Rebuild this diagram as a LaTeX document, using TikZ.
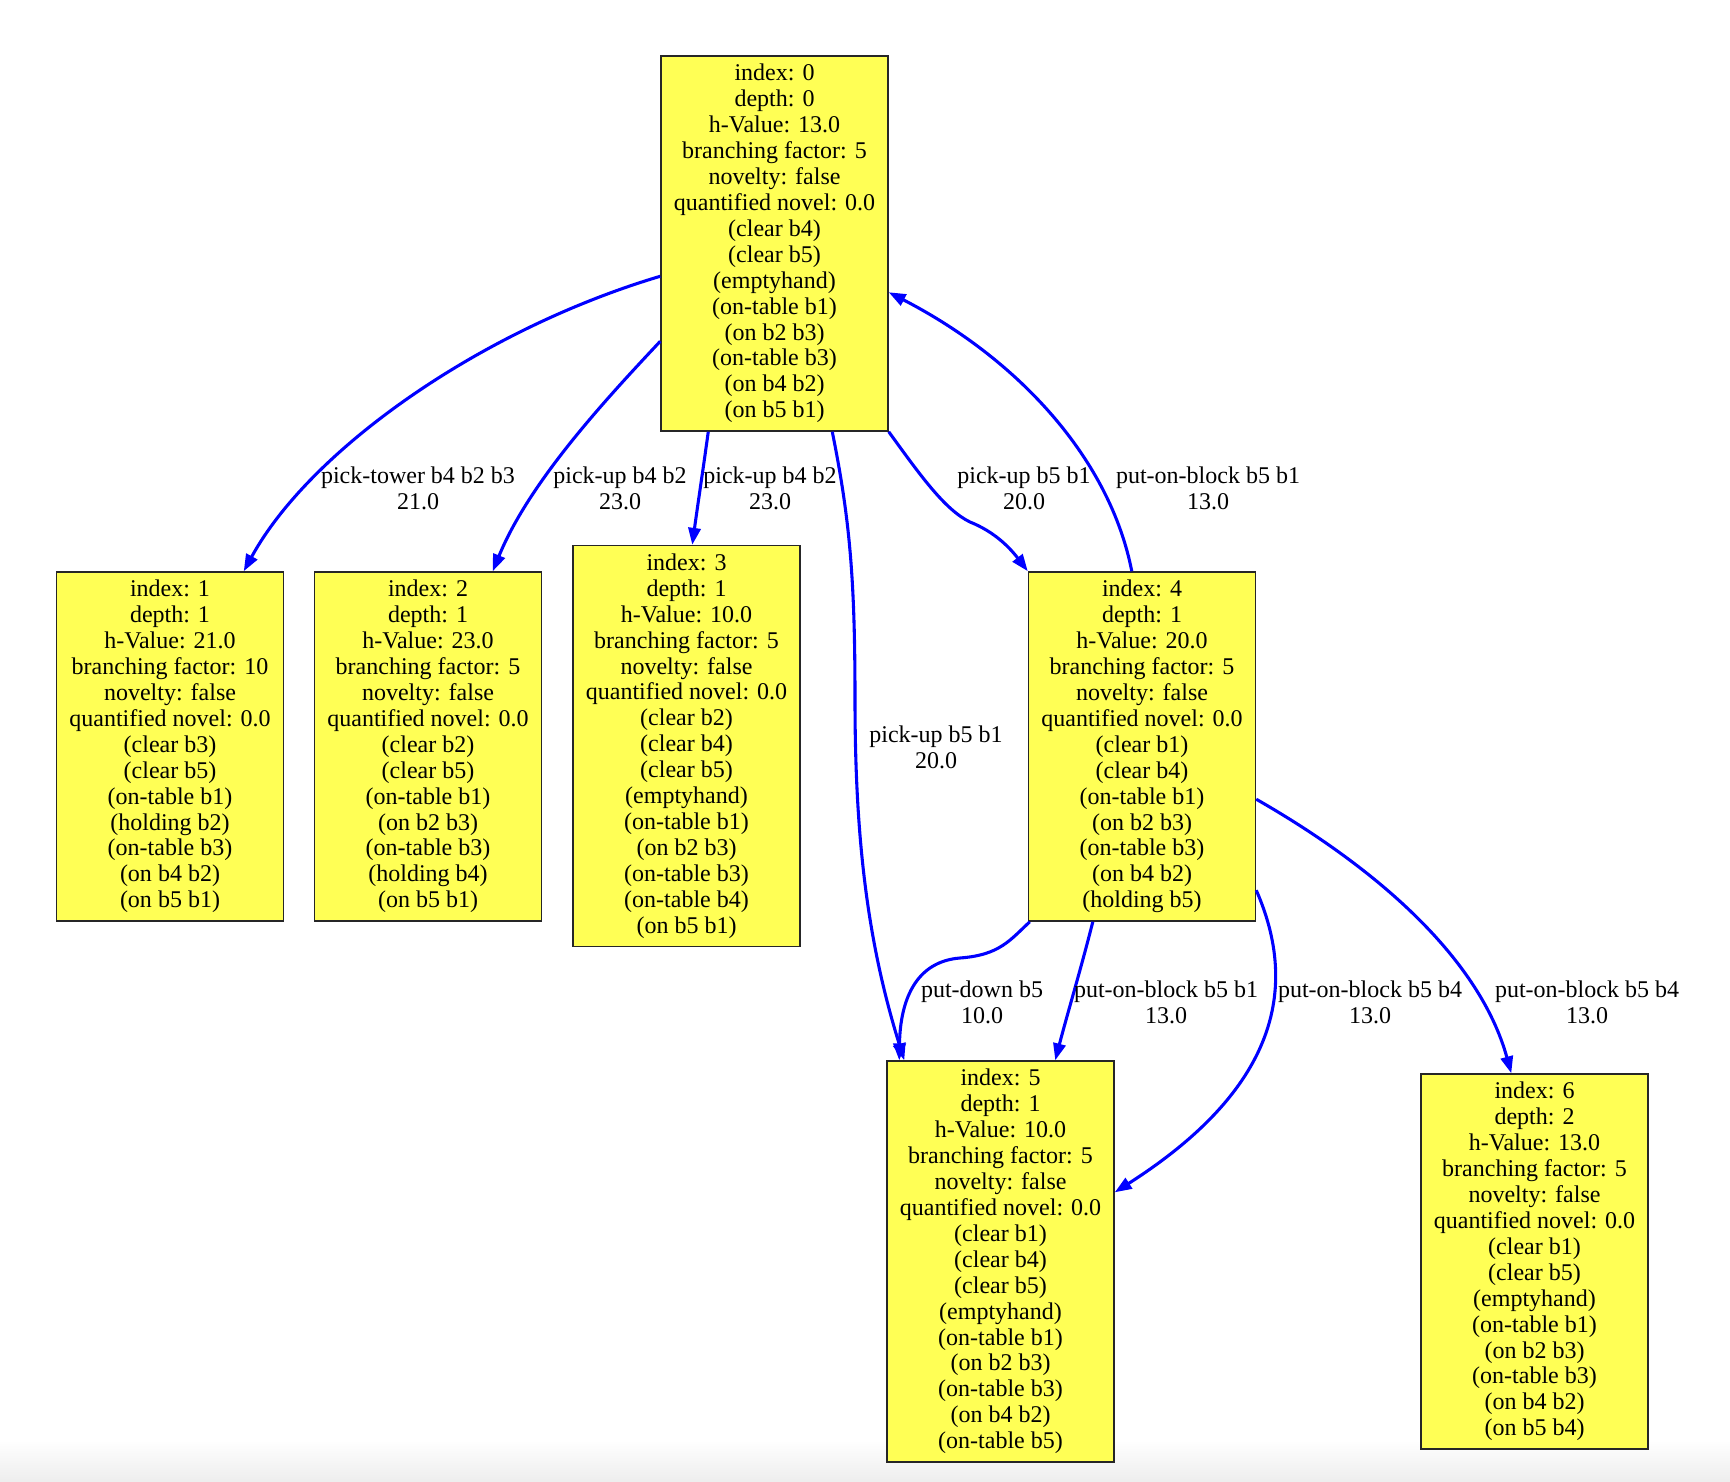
\documentclass[tikz,border=0pt]{standalone}
\usepackage{fontspec}
\setmainfont{Liberation Serif}
\usetikzlibrary{arrows.meta,calc}
\definecolor{nodeyellow}{RGB}{255,255,85}

\begin{document}
\begin{tikzpicture}[x=0.65pt,y=-0.65pt,
    statebox/.style={draw=black!85, line width=0.9pt, fill=nodeyellow, align=center,
      minimum width=147.6pt, inner xsep=2pt, inner ysep=5.3pt,
      font=\fontsize{15.6}{16.85}\selectfont},
    move/.style={draw=blue, line width=2pt, -{Triangle[length=11pt,width=8pt]}},
    movelabel/.style={align=center, inner sep=0pt, font=\fontsize{15.6}{16.85}\selectfont}]
    \useasboundingbox (0,0) rectangle (1730,1482);
    \shade[top color=white, bottom color=black!7] (0,1440) rectangle (1730,1482);

    % search states
    \node[statebox] (n0) at (774.5,243.5) {index: 0\\depth: 0\\h-Value: 13.0\\branching factor: 5\\novelty: false\\quantified novel: 0.0\\(clear b4)\\(clear b5)\\(emptyhand)\\(on-table b1)\\(on b2 b3)\\(on-table b3)\\(on b4 b2)\\(on b5 b1)};
    \node[statebox] (n1) at (170,746.5) {index: 1\\depth: 1\\h-Value: 21.0\\branching factor: 10\\novelty: false\\quantified novel: 0.0\\(clear b3)\\(clear b5)\\(on-table b1)\\(holding b2)\\(on-table b3)\\(on b4 b2)\\(on b5 b1)};
    \node[statebox] (n2) at (428,746.5) {index: 2\\depth: 1\\h-Value: 23.0\\branching factor: 5\\novelty: false\\quantified novel: 0.0\\(clear b2)\\(clear b5)\\(on-table b1)\\(on b2 b3)\\(on-table b3)\\(holding b4)\\(on b5 b1)};
    \node[statebox] (n3) at (686.5,746) {index: 3\\depth: 1\\h-Value: 10.0\\branching factor: 5\\novelty: false\\quantified novel: 0.0\\(clear b2)\\(clear b4)\\(clear b5)\\(emptyhand)\\(on-table b1)\\(on b2 b3)\\(on-table b3)\\(on-table b4)\\(on b5 b1)};
    \node[statebox] (n4) at (1142,746.5) {index: 4\\depth: 1\\h-Value: 20.0\\branching factor: 5\\novelty: false\\quantified novel: 0.0\\(clear b1)\\(clear b4)\\(on-table b1)\\(on b2 b3)\\(on-table b3)\\(on b4 b2)\\(holding b5)};
    \node[statebox] (n5) at (1000.5,1261.5) {index: 5\\depth: 1\\h-Value: 10.0\\branching factor: 5\\novelty: false\\quantified novel: 0.0\\(clear b1)\\(clear b4)\\(clear b5)\\(emptyhand)\\(on-table b1)\\(on b2 b3)\\(on-table b3)\\(on b4 b2)\\(on-table b5)};
    \node[statebox] (n6) at (1534.5,1261.5) {index: 6\\depth: 2\\h-Value: 13.0\\branching factor: 5\\novelty: false\\quantified novel: 0.0\\(clear b1)\\(clear b5)\\(emptyhand)\\(on-table b1)\\(on b2 b3)\\(on-table b3)\\(on b4 b2)\\(on b5 b4)};

    % actions
    \draw[move] ($(n0.north west)+(0,221)$) .. controls (480,330) and (310,450) .. ($(n1.north west)+(188,0)$);
    \draw[move] ($(n0.north west)+(0,286)$) .. controls (610,395) and (530,480) .. ($(n2.north west)+(179,0)$);
    \draw[move] ($(n0.south west)+(48,0)$) .. controls (703,470) and (697,510) .. ($(n3.north west)+(120,0)$);
    \draw[move] ($(n0.south west)+(172,0)$) .. controls (850,520) and (855,580) .. (855,700)
      .. controls (855,850) and (870,950) .. ($(n5.north west)+(18,0)$);
    \draw[move] (n0.south east) .. controls (920,475) and (945,510) .. (970,522)
      .. controls (995,532) and (1010,548) .. (n4.north west);
    \draw[move] ($(n4.north west)+(104,0)$) .. controls (1110,460) and (1020,360) .. ($(n0.north east)+(0,237)$);
    \draw[move] ($(n4.south west)+(2,0)$) .. controls (1010,940) and (1000,955) .. (960,958)
      .. controls (910,962) and (900,1010) .. ($(n5.north west)+(13,0)$);
    \draw[move] ($(n4.south west)+(65,0)$) .. controls (1082,965) and (1067,1015) .. ($(n5.north west)+(169,0)$);
    \draw[move] ($(n4.north east)+(0,319)$) .. controls (1300,990) and (1275,1090) .. ($(n5.north east)+(0,132)$);
    \draw[move] ($(n4.north east)+(0,228)$) .. controls (1380,870) and (1480,960) .. ($(n6.north west)+(91,0)$);

    \node[movelabel] (l1) at (418,488) {pick-tower b4 b2 b3\\21.0};
    \node[movelabel] (l2) at (620,488) {pick-up b4 b2\\23.0};
    \node[movelabel] (l3) at (770,488) {pick-up b4 b2\\23.0};
    \node[movelabel] (l4) at (936,747) {pick-up b5 b1\\20.0};
    \node[movelabel] (l5) at (1024,488) {pick-up b5 b1\\20.0};
    \node[movelabel] (l6) at (1208,488) {put-on-block b5 b1\\13.0};
    \node[movelabel] (l7) at (982,1002) {put-down b5\\10.0};
    \node[movelabel] (l8) at (1166,1002) {put-on-block b5 b1\\13.0};
    \node[movelabel] (l9) at (1370,1002) {put-on-block b5 b4\\13.0};
    \node[movelabel] (l10) at (1587,1002) {put-on-block b5 b4\\13.0};
\end{tikzpicture}
\end{document}
